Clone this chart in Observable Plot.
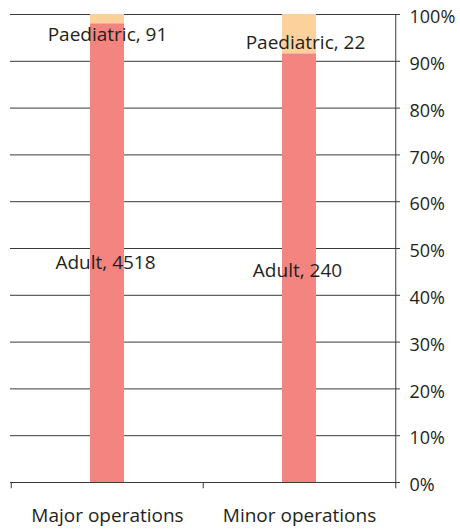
<!DOCTYPE html>
<html><head><meta charset="utf-8">
<script src="https://cdn.jsdelivr.net/npm/d3@7"></script>
<script src="https://cdn.jsdelivr.net/npm/@observablehq/plot@0.6"></script>
<style>body{margin:0;background:#fff;font-family:"Open Sans",sans-serif}</style>
</head><body><div id="chart"></div>
<script>
const categories = ["Major operations", "Minor operations"];
const seriesNames = ["Adult", "Paediatric"];
const adultValues = [4518, 240];
const paediatricValues = [91, 22];
const yTicks = [0, 0.1, 0.2, 0.3, 0.4, 0.5, 0.6, 0.7, 0.8, 0.9, 1];
const seriesColors = ["#F4847F", "#FDD19B"];

const data = categories.flatMap((c, i) => [
  {category: c, series: seriesNames[0], value: adultValues[i]},
  {category: c, series: seriesNames[1], value: paediatricValues[i]}
]);

const W = 460, H = 531, mL = 10, mR = 65, mT = 14, mB = 49;
const bw = (W - mL - mR) / categories.length;
const ink = "#3a3a3a";
const FS = 19, FSY = 18;

const stackOpts = (extra) => Plot.stackY({x: "category", y: "value", z: "series", order: seriesNames, offset: "normalize", ...extra});
const label = (cat, ser, dx, dy) => Plot.text(data, Plot.filter(
  d => d.category === cat && d.series === ser,
  stackOpts({text: d => `${d.series}, ${d.value}`, dx, dy, fontSize: FS, fill: "#231f20"})
));

const chart = Plot.plot({
  width: W, height: H,
  marginLeft: mL, marginRight: mR, marginTop: mT, marginBottom: mB,
  style: {fontFamily: "'Open Sans', sans-serif", fontSize: FS + "px", color: "#231f20"},
  x: {domain: categories, padding: 0},
  y: {domain: [0, 1]},
  color: {domain: seriesNames, range: seriesColors},
  marks: [
    Plot.ruleY(yTicks, {y: d => d, stroke: ink, strokeWidth: 1, insetRight: -5}),
    Plot.barY(data, stackOpts({fill: "series", insetLeft: 79, insetRight: 79})),
    Plot.ruleX([0], {x: () => categories[categories.length - 1], dx: bw / 2, y1: 0, y2: 1, stroke: ink}),
    Plot.ruleX(categories, {x: d => d, dx: -bw / 2, y1: 0, y2: -0.0135, stroke: ink}),
    Plot.ruleX([0], {x: () => categories[categories.length - 1], dx: bw / 2, y1: 0, y2: -0.0135, stroke: ink}),
    Plot.axisY({anchor: "right", ticks: yTicks, tickFormat: d => `${Math.round(d * 100)}%`, tickSize: 0, tickPadding: 14, dy: 3, fontSize: FSY, textAnchor: "start", label: null}),
    Plot.axisX({tickSize: 0, tickPadding: 26, fontSize: FS, label: null}),
    label(categories[0], seriesNames[0], -2, 10),
    label(categories[1], seriesNames[0], -2, 3),
    label(categories[0], seriesNames[1], 0, 16),
    label(categories[1], seriesNames[1], 6, 9)
  ]
});
document.getElementById("chart").appendChild(chart);
</script>
</body></html>
